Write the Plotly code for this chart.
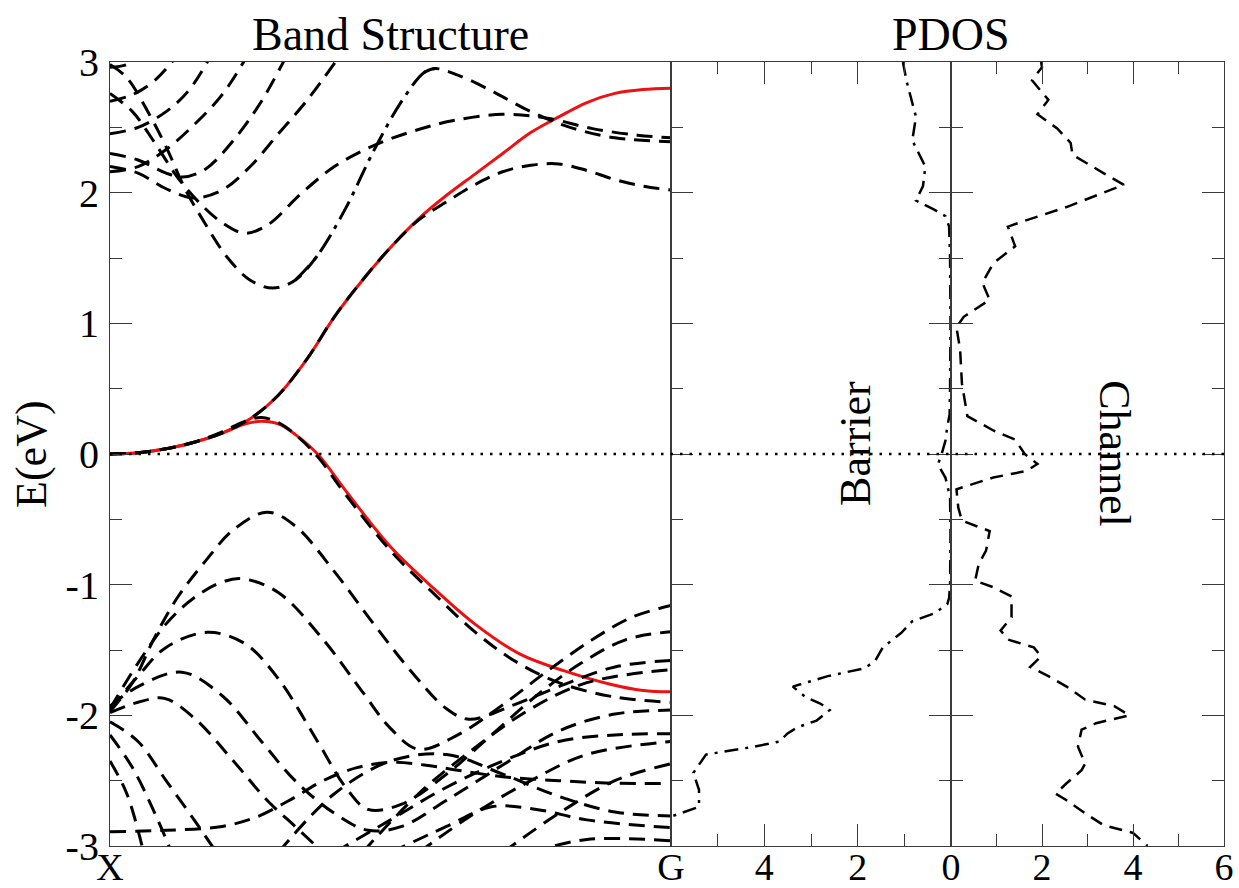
import plotly.graph_objects as go

# ---------------- data ----------------
# k: 0 = X, 1 = G ; E in eV
red_up_k = [0, 0.05, 0.1, 0.15, 0.2, 0.25, 0.3, 0.35, 0.4, 0.45, 0.5, 0.55, 0.6, 0.65, 0.7, 0.75, 0.8, 0.85, 0.9, 0.95, 1.0]
red_up_e = [0, 0.01, 0.04, 0.09, 0.16, 0.27, 0.45, 0.72, 1.05, 1.33, 1.58, 1.80, 1.98, 2.14, 2.30, 2.46, 2.58, 2.69, 2.76, 2.79, 2.80]
red_lo_k = [0, 0.05, 0.1, 0.15, 0.2, 0.24, 0.27, 0.3, 0.33, 0.37, 0.42, 0.5, 0.58, 0.65, 0.73, 0.81, 0.89, 0.95, 1.0]
red_lo_e = [0, 0.01, 0.04, 0.09, 0.16, 0.23, 0.25, 0.23, 0.15, 0.0, -0.28, -0.71, -1.04, -1.30, -1.53, -1.66, -1.76, -1.81, -1.82]

# dashed bands (k, E) pairs
band_d1 = [(0, 0), (0.05, 0.01), (0.1, 0.04), (0.15, 0.09), (0.2, 0.16), (0.25, 0.27), (0.3, 0.45), (0.35, 0.72),
           (0.4, 1.05), (0.45, 1.33), (0.5, 1.58), (0.55, 1.79), (0.6, 1.93), (0.65, 2.06), (0.7, 2.16), (0.75, 2.21),
           (0.8, 2.22), (0.85, 2.17), (0.9, 2.10), (0.95, 2.05), (1.0, 2.02)]
band_d2 = [(0, 0), (0.05, 0.01), (0.1, 0.04), (0.15, 0.09), (0.2, 0.17), (0.24, 0.25), (0.27, 0.28), (0.3, 0.24),
           (0.33, 0.15), (0.37, -0.02), (0.42, -0.31), (0.5, -0.74), (0.58, -1.08), (0.65, -1.36), (0.72, -1.58),
           (0.8, -1.75), (0.9, -1.86), (1.0, -1.90)]
# band with the 1.27 eV minimum / 2.95 eV maximum, in three pieces (dashed, dash-dot, dashed)
band_ca_left = [(0, 2.98), (0.03, 2.88), (0.07, 2.6), (0.1, 2.35), (0.135, 2.02), (0.17, 1.76), (0.21, 1.5),
                (0.25, 1.33), (0.29, 1.27), (0.33, 1.33), (0.37, 1.52)]
band_ca_mid = [(0.33, 1.33), (0.37, 1.52), (0.42, 1.88), (0.47, 2.32), (0.52, 2.7), (0.56, 2.92), (0.58, 2.95)]
band_ca_right = [(0.56, 2.92), (0.58, 2.95), (0.62, 2.9), (0.68, 2.78), (0.75, 2.62), (0.82, 2.5), (0.9, 2.42), (1.0, 2.39)]
band_cb = [(0, 2.76), (0.04, 2.62), (0.08, 2.38), (0.12, 2.12), (0.16, 1.92), (0.2, 1.77), (0.24, 1.69), (0.28, 1.75),
           (0.34, 1.99), (0.4, 2.2), (0.47, 2.36), (0.54, 2.47), (0.61, 2.55), (0.7, 2.6), (0.78, 2.57), (0.86, 2.49),
           (0.94, 2.44), (1.0, 2.42)]
band_cc = [(0, 2.2), (0.05, 2.15), (0.1, 2.03), (0.15, 1.96), (0.2, 2.02), (0.25, 2.2), (0.3, 2.45), (0.35, 2.7), (0.41, 3.05)]
band_cd = [(0, 2.3), (0.05, 2.25), (0.1, 2.15), (0.13, 2.12), (0.17, 2.18), (0.22, 2.4), (0.27, 2.7), (0.315, 3.05)]
band_ce = [(0, 2.16), (0.05, 2.2), (0.1, 2.33), (0.15, 2.52), (0.2, 2.75), (0.245, 3.05)]
band_cf = [(0, 2.45), (0.05, 2.5), (0.1, 2.62), (0.14, 2.78), (0.18, 3.05)]
band_cg = [(0, 2.7), (0.04, 2.75), (0.08, 2.86), (0.12, 3.05)]
band_ch = [(0, 2.96), (0.03, 2.98), (0.05, 3.05)]

band_va = [(0, -1.97), (0.04, -1.75), (0.08, -1.4), (0.12, -1.1), (0.17, -0.82), (0.22, -0.58), (0.28, -0.445),
           (0.33, -0.55), (0.4, -0.9), (0.47, -1.3), (0.54, -1.68), (0.6, -1.95), (0.64, -2.03), (0.72, -1.92),
           (0.8, -1.78), (0.9, -1.63), (1.0, -1.58)]
band_vb = [(0, -1.95), (0.05, -1.6), (0.1, -1.3), (0.15, -1.1), (0.2, -0.98), (0.236, -0.955), (0.3, -1.06),
           (0.38, -1.42), (0.45, -1.82), (0.5, -2.1), (0.55, -2.26), (0.62, -2.15), (0.7, -1.92), (0.78, -1.66),
           (0.86, -1.42), (0.93, -1.25), (1.0, -1.16)]
band_vc = [(0, -1.95), (0.05, -1.7), (0.1, -1.48), (0.174, -1.365), (0.24, -1.45), (0.3, -1.72), (0.37, -2.2),
           (0.42, -2.55), (0.46, -2.72), (0.52, -2.68), (0.6, -2.45), (0.68, -2.15), (0.76, -1.85), (0.84, -1.6),
           (0.92, -1.42), (1.0, -1.36)]
band_vd = [(0, -1.93), (0.05, -1.78), (0.128, -1.67), (0.2, -1.85), (0.27, -2.2), (0.33, -2.5), (0.4, -2.75),
           (0.46, -2.88), (0.52, -2.85), (0.6, -2.65), (0.7, -2.38), (0.8, -2.12), (0.9, -1.99), (1.0, -1.96)]
band_ve = [(0, -1.98), (0.05, -1.9), (0.097, -1.87), (0.15, -2.02), (0.22, -2.35), (0.28, -2.65), (0.33, -2.85), (0.38, -3.05)]
band_vf = [(0, -2.05), (0.05, -2.2), (0.1, -2.5), (0.15, -2.8), (0.19, -3.05)]
band_vg = [(0, -2.15), (0.04, -2.4), (0.08, -2.75), (0.11, -3.05)]
band_vr = [(0, -2.35), (0.03, -2.6), (0.06, -3.05)]
band_vh = [(0, -2.89), (0.1, -2.88), (0.2, -2.85), (0.26, -2.78), (0.32, -2.65), (0.38, -2.5), (0.44, -2.4),
           (0.5, -2.36), (0.56, -2.38), (0.62, -2.42), (0.7, -2.47), (0.8, -2.5), (0.9, -2.52), (1.0, -2.52)]
band_vi = [(0.4, -3.05), (0.5, -2.8), (0.6, -2.55), (0.7, -2.35), (0.8, -2.2), (0.9, -2.15), (1.0, -2.14)]
band_vj = [(0.55, -3.05), (0.65, -2.75), (0.75, -2.5), (0.85, -2.3), (1.0, -2.2)]
band_vk = [(0.7, -3.05), (0.8, -2.75), (0.9, -2.5), (1.0, -2.37)]
band_vm = [(0.3, -3.05), (0.4, -2.6), (0.5, -2.35), (0.6, -2.3), (0.7, -2.45), (0.8, -2.62), (0.9, -2.74), (1.0, -2.77)]
band_vn = [(0.5, -3.05), (0.6, -2.85), (0.68, -2.7), (0.76, -2.72), (0.85, -2.8), (1.0, -2.86)]
band_vo = [(0.75, -3.05), (0.85, -2.95), (1.0, -2.96)]
band_vq = [(0.45, -3.05), (0.55, -2.6), (0.65, -2.25), (0.75, -1.95), (0.85, -1.75), (1.0, -1.65)]

dashed_bands = [band_d1, band_d2, band_ca_left, band_ca_right, band_cb, band_cc, band_cd, band_ce, band_cf,
                band_cg, band_ch, band_va, band_vb, band_vc, band_vd, band_ve, band_vf, band_vg, band_vr,
                band_vh, band_vi, band_vj, band_vk, band_vm, band_vn, band_vo, band_vq]
dashdot_bands = [band_ca_mid]

# PDOS (E, value)
barrier_e = [3.0, 2.85, 2.58, 2.4, 2.2, 2.05, 1.94, 1.87, 1.82, 1.74, 1.5, 1.0, 0.5, 0.3, 0.21, 0.1, 0.0, -0.08,
             -0.18, -0.33, -0.6, -1.0, -1.1, -1.15, -1.22, -1.28, -1.37, -1.48, -1.58, -1.64, -1.70, -1.78, -1.86,
             -1.91, -1.96, -2.04, -2.09, -2.14, -2.2, -2.24, -2.3, -2.34, -2.44, -2.57, -2.70, -2.77, -2.85]
barrier_v = [1.03, 0.95, 0.75, 0.83, 0.55, 0.6, 0.75, 0.36, 0.12, 0.04, 0.02, 0.01, 0.02, 0.03, 0.08, 0.12, 0.2,
             0.28, 0.12, 0.02, 0.01, 0.02, 0.04, 0.08, 0.36, 0.83, 1.07, 1.46, 1.62, 1.85, 2.64, 3.39, 3.12, 2.8,
             2.6, 2.88, 3.28, 3.51, 3.67, 4.22, 5.25, 5.33, 5.52, 5.4, 5.4, 5.96, 6.6]
channel_e = [3.0, 2.96, 2.86, 2.71, 2.6, 2.49, 2.38, 2.29, 2.15, 2.06, 2.0, 1.89, 1.78, 1.74, 1.59, 1.46, 1.31,
             1.18, 1.05, 0.97, 0.8, 0.54, 0.29, 0.18, 0.11, 0.0, -0.076, -0.13, -0.18, -0.27, -0.41, -0.51, -0.59,
             -0.74, -0.84, -0.97, -1.02, -1.09, -1.25, -1.35, -1.42, -1.48, -1.55, -1.63, -1.70, -1.78, -1.88,
             -1.93, -2.0, -2.06, -2.11, -2.24, -2.37, -2.42, -2.52, -2.6, -2.65, -2.75, -2.84, -2.9, -3.0]
channel_v = [1.98, 2.0, 1.78, 2.14, 1.9, 2.34, 2.63, 2.67, 3.35, 3.8, 3.35, 2.54, 1.58, 1.25, 1.41, 0.93, 0.69,
             0.85, 0.28, 0.12, 0.2, 0.24, 0.36, 0.93, 1.41, 1.62, 1.9, 1.66, 0.93, 0.12, 0.16, 0.24, 0.85, 0.77,
             0.61, 0.53, 0.93, 1.33, 1.33, 1.09, 1.25, 1.82, 1.98, 1.74, 2.14, 2.54, 2.95, 3.59, 3.92, 3.19, 2.87,
             2.79, 2.95, 2.87, 2.54, 2.3, 2.54, 2.95, 3.35, 4.0, 4.32]

k_ticks = [0, 1]
k_labels = ["X", "G"]
e_ticks = [-3, -2, -1, 0, 1, 2, 3]
e_labels = ["-3", "-2", "-1", "0", "1", "2", "3"]
barrier_ticks = [0, 2, 4]
barrier_labels = ["0", "2", "4"]
channel_ticks = [0, 2, 4, 6]
channel_labels = ["", "2", "4", "6"]
dos_minor = [1, 3, 5]

# ---------------- figure ----------------
FONT = "Liberation Serif, Times New Roman, serif"
AXC = "#3a3a3a"
XT_FONT = 38
XT_SHIFT = -13
fig = go.Figure()

for kk, ee in [(red_up_k, red_up_e), (red_lo_k, red_lo_e)]:
    fig.add_trace(go.Scatter(x=kk, y=ee, mode="lines", line=dict(color="#ee1111", width=3, shape="spline"),
                             xaxis="x", yaxis="y", showlegend=False, hoverinfo="skip"))

for b in dashed_bands:
    fig.add_trace(go.Scatter(x=[p[0] for p in b], y=[p[1] for p in b], mode="lines",
                             line=dict(color="black", width=3, dash="16px,9px", shape="spline"),
                             xaxis="x", yaxis="y", showlegend=False, hoverinfo="skip"))
for b in dashdot_bands:
    fig.add_trace(go.Scatter(x=[p[0] for p in b], y=[p[1] for p in b], mode="lines",
                             line=dict(color="black", width=3, dash="20px,7px,4px,7px", shape="spline"),
                             xaxis="x", yaxis="y", showlegend=False, hoverinfo="skip"))

fig.add_trace(go.Scatter(x=barrier_v, y=barrier_e, mode="lines",
                         line=dict(color="black", width=2.5, dash="14px,7px,3px,7px"),
                         xaxis="x2", yaxis="y2", showlegend=False, hoverinfo="skip"))
fig.add_trace(go.Scatter(x=channel_v, y=channel_e, mode="lines",
                         line=dict(color="black", width=2.5, dash="13px,8px"),
                         xaxis="x3", yaxis="y3", showlegend=False, hoverinfo="skip"))

d1 = 561 / 1114
d2 = 841 / 1114
LW = 1.2

common_y = dict(range=[-3, 3], showline=True, linecolor=AXC, linewidth=LW, ticks="inside", ticklen=22,
                tickwidth=1.3, tickcolor=AXC, tickvals=e_ticks, ticktext=e_labels, showgrid=False,
                zeroline=False, automargin=False,
                minor=dict(dtick=0.5, tick0=0, ticklen=12, ticks="inside", tickcolor=AXC, tickwidth=1.3,
                           showgrid=False))
common_x = dict(showline=True, mirror="ticks", linecolor=AXC, linewidth=LW, ticks="inside", ticklen=22,
                tickwidth=1.3, tickcolor=AXC, showgrid=False, zeroline=False, automargin=False,
                tickfont=dict(size=XT_FONT), ticklabelstandoff=XT_SHIFT,
                minor=dict(tickvals=dos_minor, ticklen=12, ticks="inside", tickcolor=AXC, tickwidth=1.3))

fig.update_layout(
    width=1239, height=888, margin=dict(l=110, r=15, t=62, b=42, autoexpand=False),
    paper_bgcolor="white", plot_bgcolor="white",
    font=dict(family=FONT, size=40, color="black"),
    xaxis=dict(domain=[0, d1], range=[0, 1], showline=True, mirror=True, linecolor=AXC, linewidth=LW,
               ticks="", tickvals=k_ticks, ticktext=k_labels, showgrid=False, zeroline=False,
               automargin=False, tickfont=dict(size=XT_FONT), ticklabelstandoff=XT_SHIFT),
    yaxis=dict(**common_y, anchor="x", mirror=True, showticklabels=True, tickfont=dict(size=40),
               ticklabelstandoff=2),
    xaxis2=dict(**common_x, domain=[d1, d2], range=[6, 0], anchor="y2",
                tickvals=barrier_ticks, ticktext=barrier_labels),
    yaxis2=dict(**common_y, anchor="x2", mirror="ticks", showticklabels=False),
    xaxis3=dict(**common_x, domain=[d2, 1], range=[0, 6], anchor="y3",
                tickvals=channel_ticks, ticktext=channel_labels),
    yaxis3=dict(**common_y, anchor="x3", mirror="ticks", showticklabels=False),
    shapes=[dict(type="line", xref="paper", yref="y", x0=0, x1=1, y0=0, y1=0,
                 line=dict(color="black", width=2.5, dash="2.5px,7px"))],
    annotations=[
        dict(text="Band Structure", xref="paper", yref="paper", x=d1 / 2, y=1, xanchor="center",
             yanchor="bottom", showarrow=False, font=dict(size=46), yshift=0),
        dict(text="PDOS", xref="paper", yref="paper", x=d2, y=1, xanchor="center", yanchor="bottom",
             showarrow=False, font=dict(size=46), yshift=0),
        dict(text="E(eV)", xref="paper", yref="paper", x=-0.071, y=0.5, xanchor="center", yanchor="middle",
             textangle=-90, showarrow=False, font=dict(size=44)),
        dict(text="Barrier", xref="x2", yref="y2", x=2.05, y=0.08, xanchor="center", yanchor="middle",
             textangle=-90, showarrow=False, font=dict(size=44)),
        dict(text="Channel", xref="x3", yref="y3", x=3.6, y=0.0, xanchor="center", yanchor="middle",
             textangle=90, showarrow=False, font=dict(size=44)),
    ],
)

fig.write_html("out.html")
